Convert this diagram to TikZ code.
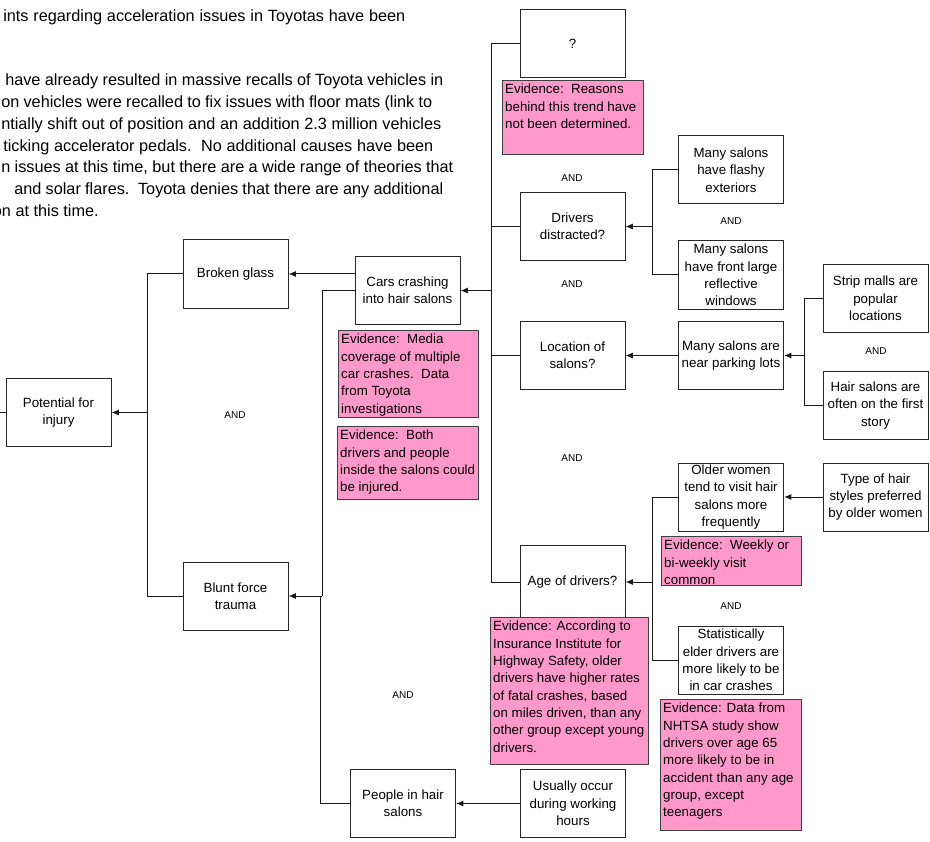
\documentclass[tikz,border=0pt]{standalone}
\usepackage{fontspec}
\setmainfont{Liberation Sans}
\usetikzlibrary{arrows.meta}
\definecolor{evpink}{HTML}{FF99CC}
\begin{document}
\begin{tikzpicture}[x=0.75pt,y=-0.75pt,
  box/.style={draw=black!85, line width=0.75pt, fill=white, minimum width=78.75pt, minimum height=51pt, inner xsep=1pt, inner ysep=0pt, align=center, font=\fontsize{10}{13}\selectfont},
  evbox/.style={draw=black!75, line width=0.75pt, fill=evpink, inner sep=0pt, anchor=north west},
  evtext/.style={anchor=north west, inner xsep=2.2pt, inner ysep=3pt, align=left, font=\fontsize{10}{13}\selectfont},
  andlbl/.style={font=\fontsize{7.5}{9}\selectfont, inner sep=0pt},
  para/.style={anchor=base west, inner sep=0pt, font=\fontsize{12.2}{14}\selectfont},
  conn/.style={line width=0.75pt, draw=black!90},
  arr/.style={conn, -{Latex[length=5.5pt,width=4.5pt]}}
]
\useasboundingbox (0,0) rectangle (930,841);

% paragraph text (cut off at the left)
\node[para] (p1) at (3,22) {\hbox to 301.5pt{ints regarding acceleration issues in Toyotas have been}};
\node[para] (p2) at (5,86) {\hbox to 328.5pt{have already resulted in massive recalls of Toyota vehicles in}};
\node[para] (p3) at (1,108) {\hbox to 323.25pt{on vehicles were recalled to fix issues with floor mats (link to}};
\node[para] (p4) at (1,130) {\hbox to 330pt{ntially shift out of position and an addition 2.3 million vehicles}};
\node[para] (p5) at (3,152) {\hbox to 322.5pt{ticking accelerator pedals.\ \ No additional causes have been}};
\node[para] (p6) at (1,173) {\hbox to 339pt{n issues at this time, but there are a wide range of theories that}};
\node[para] (p7) at (14,195) {\hbox to 321.75pt{and solar flares.\ \ Toyota denies that there are any additional}};
\node[para, anchor=base east] (p8) at (99,217) {on at this time.};

% boxes
\node[box] (pot) at (58.5,412.5) {Potential for\\injury};
\node[box] (broken) at (235.5,274) {Broken glass};
\node[box] (blunt) at (235.5,596) {Blunt force\\trauma};
\node[box] (cars) at (407.5,290.5) {Cars crashing\\into hair salons};
\node[box] (people) at (403,803.5) {People in hair\\salons};
\node[box] (usual) at (573,803.5) {Usually occur\\during working\\hours};
\node[box] (q) at (572.5,44) {?};
\node[box] (drivers) at (572.5,226.5) {Drivers\\distracted?};
\node[box] (location) at (572.5,355.5) {Location of\\salons?};
\node[box, minimum height=55.5pt] (age) at (572.5,582) {Age of drivers?};
\node[box] (flashy) at (731,170) {Many salons\\have flashy\\exteriors};
\node[box] (windows) at (731,275) {Many salons\\have front large\\reflective\\windows};
\node[box] (parking) at (731,355.5) {Many salons are\\near parking lots};
\node[box] (older) at (731,497) {Older women\\tend to visit hair\\salons more\\frequently};
\node[box] (statist) at (731,660) {Statistically\\elder drivers are\\more likely to be\\in car crashes};
\node[box] (strip) at (875.5,298.5) {Strip malls are\\popular\\locations};
\node[box] (hair) at (875.5,405.5) {Hair salons are\\often on the first\\story};
\node[box] (type) at (875.5,497) {Type of hair\\styles preferred\\by older women};

% AND labels
\node[andlbl] (and1) at (572,178) {AND};
\node[andlbl] (and2) at (731,221) {AND};
\node[andlbl] (and3) at (572,284) {AND};
\node[andlbl] (and4) at (876,351) {AND};
\node[andlbl] (and5) at (572,458) {AND};
\node[andlbl] (and6) at (731,606) {AND};
\node[andlbl] (and7) at (235,415) {AND};
\node[andlbl] (and8) at (403,695) {AND};

% junction points
\coordinate (lft) at (0,412.5);
\coordinate (j1) at (147,412.5);
\coordinate (j2) at (322,596);
\coordinate (j3) at (320,596);
\coordinate (j4) at (491,290.5);
\coordinate (j5) at (652,226.5);
\coordinate (j6) at (804,355.5);
\coordinate (j7) at (652,582);

% connectors
\draw[conn] (pot.west) -- (lft);
\draw[conn] (broken.west) -| (j1);
\draw[conn] (blunt.west) -| (j1);
\draw[arr] (j1) -- (pot.east);

\draw[arr] (cars.west |- broken.east) -- (broken.east);
\draw[conn] (cars.west) -| (j2);
\draw[conn] (people.west) -| (j3);
\draw[arr] (j2) -- (blunt.east);
\draw[arr] (usual.west) -- (people.east);

\draw[conn] (q.west) -| (j4);
\draw[conn] (age.west) -| (j4);
\draw[conn] (drivers.west) -- (drivers.west -| j4);
\draw[conn] (location.west) -- (location.west -| j4);
\draw[arr] (j4) -- (cars.east);

\draw[conn] (flashy.west) -| (j5);
\draw[conn] (windows.west) -| (j5);
\draw[arr] (j5) -- (drivers.east);

\draw[arr] (parking.west) -- (location.east);
\draw[conn] (strip.west) -| (j6);
\draw[conn] (hair.west) -| (j6);
\draw[arr] (j6) -- (parking.east);

\draw[arr] (type.west) -- (older.east);
\draw[conn] (older.west) -| (j7);
\draw[conn] (statist.west) -| (j7);
\draw[arr] (j7) -- (age.east);

% evidence boxes
\node[evbox, minimum width=105.75pt, minimum height=55.5pt] (evq) at (502,80) {};
\node[evtext] (tq) at (evq.north west) {Evidence:\ \ Reasons\\behind this trend have\\not been determined.};

\node[evbox, minimum width=105pt, minimum height=65.25pt] (evmedia) at (338,330) {};
\node[evtext] (tmedia) at (evmedia.north west) {Evidence:\ \ Media\\coverage of multiple\\car crashes.\ \ Data\\from Toyota\\investigations};

\node[evbox, minimum width=105.75pt, minimum height=54.75pt] (evboth) at (337,426) {};
\node[evtext] (tboth) at (evboth.north west) {Evidence:\ \ Both\\drivers and people\\inside the salons could\\be injured.};

\node[evbox, minimum width=105pt, minimum height=36.75pt] (evweekly) at (661,536) {};
\node[evtext] (tweekly) at (evweekly.north west) {Evidence:\ \ Weekly or\\bi-weekly visit\\common};

\node[evbox, minimum width=118.5pt, minimum height=110.25pt] (evage) at (490,617) {};
\node[evtext] (tage) at (evage.north west) {Evidence: According to\\Insurance Institute for\\Highway Safety, older\\drivers have higher rates\\of fatal crashes, based\\on miles driven, than any\\other group except young\\drivers.};

\node[evbox, minimum width=105.75pt, minimum height=98.25pt] (evnhtsa) at (660,699) {};
\node[evtext] (tnhtsa) at (evnhtsa.north west) {Evidence: Data from\\NHTSA study show\\drivers over age 65\\more likely to be in\\accident than any age\\group, except\\teenagers};
\end{tikzpicture}
\end{document}
